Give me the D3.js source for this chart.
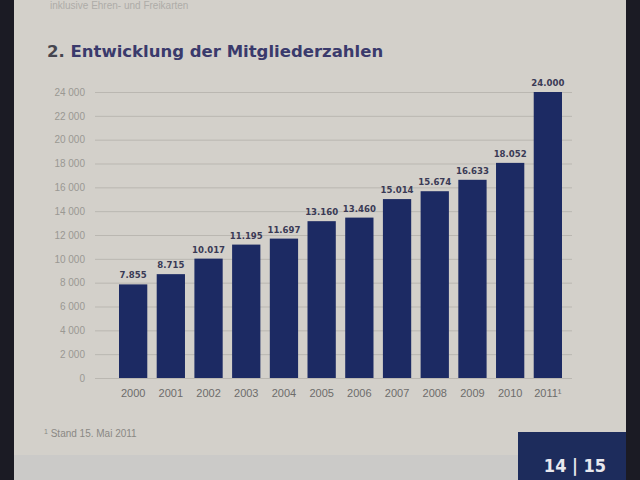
<!DOCTYPE html>
<html><head><meta charset="utf-8">
<script src="https://cdn.jsdelivr.net/npm/d3@7/dist/d3.min.js"></script>
<style>body{margin:0;background:#1a1a1e;}svg{display:block;}</style>
</head><body>
<svg id="c" width="640" height="480"></svg>
<script>
const years = ["2000","2001","2002","2003","2004","2005","2006","2007","2008","2009","2010","2011"];
const yearLabels = ["2000","2001","2002","2003","2004","2005","2006","2007","2008","2009","2010","2011¹"];
const members = [7855,8715,10017,11195,11697,13160,13460,15014,15674,16633,18052,24000];
const yTicks = [0,2000,4000,6000,8000,10000,12000,14000,16000,18000,20000,22000,24000];

const svg = d3.select("#c");
svg.append("rect").attr("x",14).attr("y",0).attr("width",612).attr("height",480).attr("fill","#d3d0ca");
svg.append("rect").attr("x",0).attr("y",0).attr("width",14).attr("height",480).attr("fill","#1b1b24");
svg.append("rect").attr("x",626).attr("y",0).attr("width",14).attr("height",480).attr("fill","#1b1b24");
svg.append("rect").attr("x",14).attr("y",455).attr("width",505).attr("height",25).attr("fill","#cbcac8");
svg.append("rect").attr("x",518).attr("y",432).attr("width",108).attr("height",48).attr("fill","#1d2c5c");
svg.append("text").attr("x",575).attr("y",472).attr("text-anchor","middle")
  .attr("font-family","DejaVu Sans Condensed, DejaVu Sans").attr("font-weight","bold")
  .attr("font-size",18).attr("fill","#e8e8ee").text("14 | 15");

svg.append("text").attr("x",50).attr("y",9).attr("font-family","Liberation Sans, Arial")
  .attr("font-size",10).attr("fill","#aeaca8").text("inklusive Ehren- und Freikarten");

const title = svg.append("text").attr("x",47).attr("y",57)
  .attr("font-family","DejaVu Sans, sans-serif").attr("font-weight","bold").attr("font-size",16.5);
title.append("tspan").attr("fill","#45454f").text("2. ");
title.append("tspan").attr("fill","#3a3a6c").text("Entwicklung der Mitgliederzahlen");

const x = d3.scaleBand().domain(years).range([119,562]).paddingInner(0.25).paddingOuter(0);
const y = d3.scaleLinear().domain([0,24000]).range([378,92]);

const g = svg.append("g");
const fmtTick = d3.formatLocale({thousands:" ",decimal:",",grouping:[3],currency:["","€"]}).format(",");
const fmtVal = d3.formatLocale({thousands:".",decimal:",",grouping:[3],currency:["","€"]}).format(",");

const yAxis = d3.axisLeft(y).tickValues(yTicks).tickFormat(fmtTick).tickSize(-(572-95)).tickPadding(10);
const ax = g.append("g").attr("transform","translate(95,0)").call(yAxis);
ax.select(".domain").remove();
ax.selectAll("line").attr("stroke","#bab7b1").attr("stroke-width",1);
ax.selectAll("text").attr("font-family","Liberation Sans, Arial").attr("font-size",10).attr("fill","#9a9893");

g.selectAll("rect.bar").data(members).join("rect").attr("class","bar")
  .attr("x",(d,i)=>x(years[i])).attr("width",x.bandwidth())
  .attr("y",d=>y(d)).attr("height",d=>y(0)-y(d)).attr("fill","#1c2a63");

g.selectAll("text.val").data(members).join("text").attr("class","val")
  .attr("x",(d,i)=>x(years[i])+x.bandwidth()/2).attr("y",d=>y(d)-6)
  .attr("text-anchor","middle").attr("font-family","DejaVu Sans Condensed, DejaVu Sans")
  .attr("font-weight","bold").attr("font-size",9.5).attr("fill","#3a3a55").text(d=>fmtVal(d));

const xAxis = d3.axisBottom(x).tickSize(0).tickPadding(11).tickFormat((d,i)=>yearLabels[i]);
const xa = g.append("g").attr("transform",`translate(0,${y(0)})`).call(xAxis);
xa.select(".domain").remove();
xa.selectAll("text").attr("font-family","Liberation Sans, Arial").attr("font-size",11).attr("fill","#6d6c6a");

const fn = svg.append("text").attr("x",44).attr("y",437).attr("font-family","Liberation Sans, Arial")
  .attr("font-size",10).attr("fill","#8a8884");
fn.append("tspan").attr("font-size",7).attr("dy",-3).text("1");
fn.append("tspan").attr("dy",3).text(" Stand 15. Mai 2011");
</script>
</body></html>
